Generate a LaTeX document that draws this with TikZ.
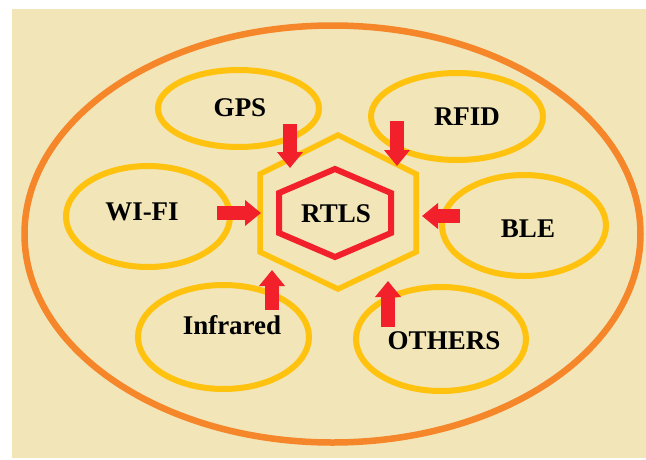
\documentclass[tikz,border=0pt]{standalone}
\usepackage{fontspec}
\setmainfont{Liberation Serif}
\usepackage{tikz}
\usetikzlibrary{shapes.geometric, arrows.meta}
\definecolor{paper}{HTML}{F2E5B7}
\definecolor{rim}{HTML}{F5862A}
\definecolor{gold}{HTML}{FFC20E}
\definecolor{hot}{HTML}{F2202A}
\tikzset{
    ring/.style={ellipse, draw=gold, line width=6pt, inner sep=0pt},
    tech/.style={font=\bfseries\fontsize{27}{30}\selectfont, inner sep=0pt},
    push/.style={draw=hot, line width=14pt, -{Triangle[width=25pt, length=16pt]}},
}

\begin{document}
\begin{tikzpicture}[x=1pt, y=-1pt]
    \useasboundingbox (0,0) rectangle (646,459);
    \fill[white] (0,0) rectangle (646,459);
    \fill[paper] (12,9) rectangle (646,458);

    % outer rim
    \node[ellipse, draw=rim, line width=6.5pt, minimum width=616pt, minimum height=417pt] (rtlsworld) at (332.5,234) {};

    % core
    \draw[gold, line width=5.5pt] (338,135) -- (416,174) -- (416,252) -- (338,289)
        -- (260,252) -- (260,174) -- cycle;
    \draw[hot, line width=6pt] (335,169) -- (391,193) -- (391,233) -- (335,257)
        -- (279,233) -- (279,193) -- cycle;
    \node[tech] (rtls) at (336,214) {RTLS};

    % technologies
    \node[ring, minimum width=161pt, minimum height=77pt]  (gpsring)   at (238.5,108.5) {};
    \node[ring, minimum width=172pt, minimum height=87pt]  (rfidring)  at (457,116.5) {};
    \node[ring, minimum width=164pt, minimum height=101pt] (wifiring)  at (148,216.5) {};
    \node[ring, minimum width=164pt, minimum height=101pt] (blering)   at (524,225.5) {};
    \node[ring, minimum width=171pt, minimum height=104pt] (irring)    at (223.5,337) {};
    \node[ring, minimum width=170pt, minimum height=104pt] (otherring) at (441,339) {};

    \node[tech] (gps)   at (240,108) {GPS};
    \node[tech] (rfid)  at (467,117) {RFID};
    \node[tech] (wifi)  at (142,212) {WI-FI};
    \node[tech] (ble)   at (528,229) {BLE};
    \node[tech] (ir)    at (232,325) {Infrared};
    \node[tech] (other) at (444,341) {OTHERS};

    % arrows into the core
    \coordinate (gps-out)   at (290,124);  \coordinate (gps-in)   at (290,168);
    \coordinate (rfid-out)  at (397,121);  \coordinate (rfid-in)  at (397,166);
    \coordinate (wifi-out)  at (217,213);  \coordinate (wifi-in)  at (261,213);
    \coordinate (ble-out)   at (460,216);  \coordinate (ble-in)   at (422,216);
    \coordinate (ir-out)    at (272,310);  \coordinate (ir-in)    at (272,270);
    \coordinate (other-out) at (388,327);  \coordinate (other-in) at (388,281);

    \foreach \t in {gps, rfid, wifi, ble, ir, other}
        \draw[push] (\t-out) -- (\t-in);
\end{tikzpicture}
\end{document}
